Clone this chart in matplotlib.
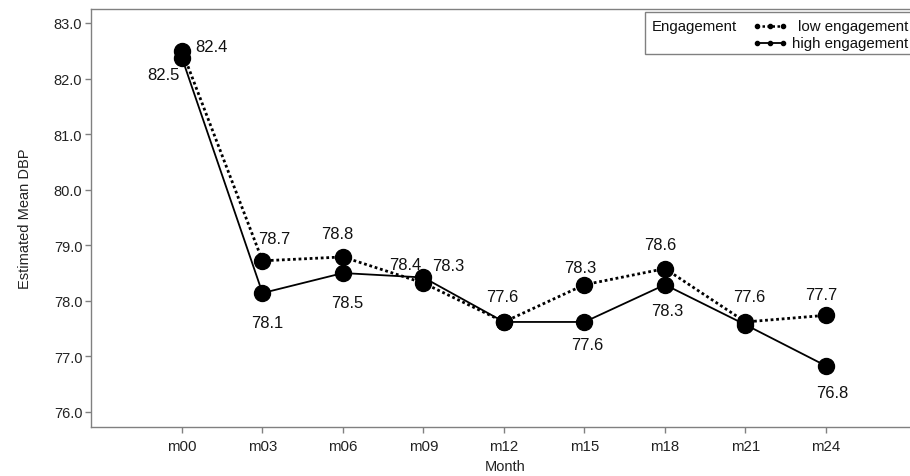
import matplotlib
matplotlib.use("Agg")
import matplotlib.pyplot as plt
from matplotlib.lines import Line2D
from matplotlib.patches import Rectangle

plt.rcParams["font.family"] = ["Liberation Sans", "DejaVu Sans"]

months = ["m00", "m03", "m06", "m09", "m12", "m15", "m18", "m21", "m24"]
low_engagement = [82.50, 78.72, 78.79, 78.32, 77.62, 78.29, 78.58, 77.62, 77.74]
high_engagement = [82.37, 78.14, 78.50, 78.42, 77.62, 77.62, 78.29, 77.57, 76.83]
y_ticks = [76.0, 77.0, 78.0, 79.0, 80.0, 81.0, 82.0, 83.0]

# label offsets in pixels (dx, dy up); None = label hidden behind the other series
low_offsets = [(-19, -24), (12, 22), (-6, 23), (25, 18), (-2, 25),
               (-4, 17), (-5, 24), (4, 25), (-5, 21)]
high_offsets = [(29, 11), (5, -29), (4, -29), (-18, 13), None,
                (3, -23), (2, -26), None, (6, -27)]

W, H, DPI = 910, 477, 100
fig = plt.figure(figsize=(W / DPI, H / DPI), dpi=DPI)
ax = fig.add_axes([90.7 / W, (H - 428) / H, (920 - 90.7) / W, (428 - 9.5) / H])

x = list(range(len(months)))
ax.plot(x, low_engagement, color="black", lw=2.0, linestyle=(0, (1, 1)), zorder=2)
ax.plot(x, high_engagement, color="black", lw=1.3, linestyle="-", zorder=2)
ax.plot(x, low_engagement, "o", color="black", ms=11.5, zorder=3)
ax.plot(x, high_engagement, "o", color="black", ms=11.5, zorder=3)

px = 72 / DPI
for values, offsets in ((low_engagement, low_offsets), (high_engagement, high_offsets)):
    for xi, v, off in zip(x, values, offsets):
        if off is None:
            continue
        ax.annotate(f"{v:.1f}", (xi, v), xytext=(off[0] * px, off[1] * px),
                    textcoords="offset points", ha="center", va="center",
                    fontsize=12, color="#111111")

ax.set_xlim(-1.134, 9.168)
ax.set_ylim(75.73, 83.26)
ax.set_xticks(x)
ax.set_xticklabels(months)
ax.set_yticks(y_ticks)
ax.set_yticklabels([f"{t:.1f}" for t in y_ticks])

for side in ("left", "bottom", "top", "right"):
    ax.spines[side].set_color("#808080")
    ax.spines[side].set_linewidth(1.0)
ax.tick_params(axis="both", colors="#808080", length=4, width=1, labelcolor="#222222")
ax.tick_params(axis="x", labelsize=10.8, pad=5)
ax.tick_params(axis="y", labelsize=10.5, pad=2)

ax.set_xlabel("Month", fontsize=10.5, color="#222222", labelpad=4)
ax.set_ylabel("Estimated Mean DBP", fontsize=10.5, color="#222222", labelpad=16)


# legend box drawn in figure pixels
def fx(p):
    return p / W


def fy(p):
    return (H - p) / H


fig.patches.append(Rectangle((fx(645), fy(55)), fx(300), 42 / H, transform=fig.transFigure,
                             facecolor="white", edgecolor="#808080", lw=1.0, zorder=5))
fig.text(fx(652), fy(27), "Engagement", fontsize=10.8, va="center", ha="left",
         color="#111111", zorder=6)
keys = [("low engagement", (0, (1, 1)), 1.8, 27), ("high engagement", "-", 1.3, 44)]
for label, style, lw, yk in keys:
    fig.add_artist(Line2D([fx(757), fx(783)], [fy(yk), fy(yk)], transform=fig.transFigure,
                          color="black", lw=lw, linestyle=style, zorder=6))
    fig.add_artist(Line2D([fx(757), fx(770), fx(783)], [fy(yk)] * 3, transform=fig.transFigure,
                          color="black", lw=0, marker="o", ms=3, zorder=6))
    fig.text(fx(908), fy(yk), label, fontsize=10.8, va="center", ha="right",
             color="#111111", zorder=6)

fig.savefig("out.png", dpi=DPI)
